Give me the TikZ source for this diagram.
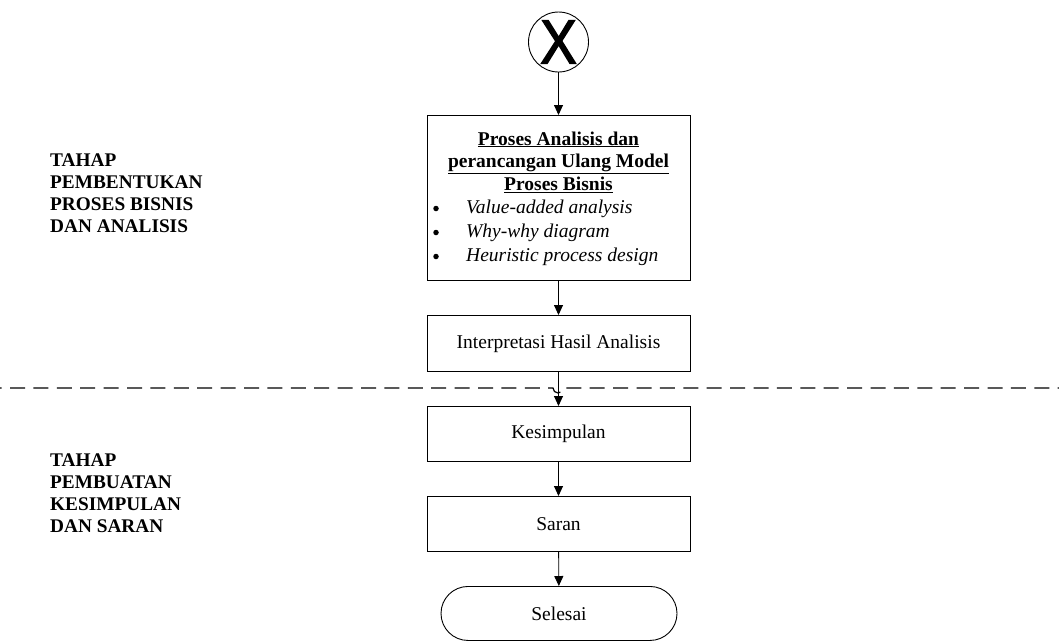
\documentclass[tikz,border=0pt]{standalone}
\usepackage{fontspec}
\setmainfont{Liberation Serif}
\newfontfamily\connfont[FakeBold=2.5]{Liberation Sans}
\usetikzlibrary{arrows.meta,shapes.misc}
\tikzset{
  proc/.style={draw, line width=0.9pt, minimum width=263pt, inner sep=0pt, font=\fontsize{19.5}{23}\selectfont},
  flow/.style={line width=0.9pt, -{Triangle[length=10pt,width=9pt]}},
  phase/.style={anchor=north west, align=left, inner sep=0pt, font=\fontsize{19.3}{22}\selectfont\bfseries},
  dot/.style={circle, fill, inner sep=0pt, minimum size=5.5pt},
}
\begin{document}
\begin{tikzpicture}[x=1pt, y=-1pt]
\useasboundingbox (0,0) rectangle (1059,641);

% off-page connector
\node[draw, circle, line width=0.9pt, minimum size=60pt, inner sep=0pt] (conn) at (558.5,42) {};
\node[font=\connfont\fontsize{62}{62}\selectfont, xscale=0.88, inner sep=0pt] (connX) at (conn.center) {X};

% analysis box
\node[proc, minimum height=165pt, anchor=north] (analisis) at (558.5,115) {};
\node[font=\fontsize{19.5}{22.8}\selectfont\bfseries, align=center, anchor=north] (judul) at (558.5,128)
  {\underline{Proses Analisis dan}\\\underline{perancangan Ulang Model}\\\underline{Proses Bisnis}};
\foreach \t/\yy [count=\i] in {Value-added analysis/208.5, Why-why diagram/232.5, Heuristic process design/256.5}{
  \node[dot] (b\i) at (436,\yy) {};
  \node[font=\fontsize{19.5}{23}\selectfont\itshape, anchor=west, inner sep=0pt] (t\i) at (466,\yy) {\t};
}

\node[proc, minimum height=56pt, anchor=north] (interp) at (558.5,315) {Interpretasi Hasil Analisis};
\node[proc, minimum height=55pt, anchor=north] (kesimpulan) at (558.5,406) {Kesimpulan};
\node[proc, minimum height=55pt, anchor=north] (saran) at (558.5,496) {Saran};
\node[draw, rounded rectangle, line width=0.9pt, minimum width=236pt, minimum height=54pt,
      inner sep=0pt, anchor=north, font=\fontsize{19.5}{23}\selectfont] (selesai) at (559,586) {Selesai};

% phase separator with a hop over the flow line
\coordinate (sepL) at (0,388);
\coordinate (sepR) at (1059,388);
\draw[line width=1.2pt, dash pattern=on 15pt off 8.4pt, dash phase=-10pt]
  (sepL) -- (553,388) arc[start angle=180, end angle=0, radius=5] -- (sepR);

% flow
\draw[flow] (conn) -- (analisis);
\draw[flow] (analisis) -- (interp);
\draw[flow] (interp) -- (kesimpulan);
\draw[flow] (kesimpulan) -- (saran);
\draw[flow] (saran) -- (selesai);

% phase labels
\node[phase] (fase1) at (50,154) {TAHAP\\PEMBENTUKAN\\PROSES BISNIS\\DAN ANALISIS};
\node[phase] (fase2) at (50,454) {TAHAP\\PEMBUATAN\\KESIMPULAN\\DAN SARAN};
\end{tikzpicture}
\end{document}
